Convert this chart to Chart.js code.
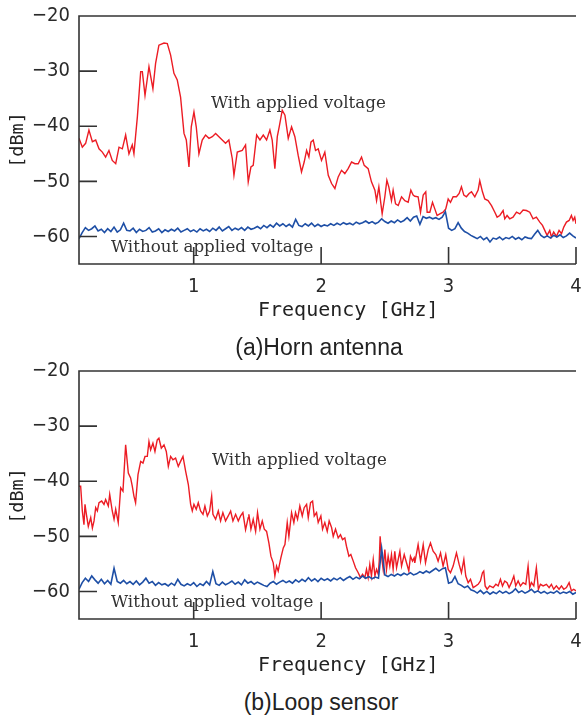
<!DOCTYPE html>
<html><head><meta charset="utf-8">
<script src="https://cdn.jsdelivr.net/npm/chart.js@4.4.1/dist/chart.umd.min.js"></script>
<style>
html,body{margin:0;padding:0;background:#fff;}
#wrap{position:relative;width:581px;height:720px;overflow:hidden;background:#fff;}
canvas{position:absolute;left:0;}
.ann{position:absolute;font-family:'DejaVu Serif',serif;font-size:16.7px;line-height:17px;color:#333;white-space:nowrap;}
.cap{position:absolute;font-family:'Liberation Sans',Arial,sans-serif;font-size:23px;line-height:23px;color:#222;text-align:center;width:400px;white-space:nowrap;}
.xt{position:absolute;font-family:'DejaVu Sans Mono',monospace;font-size:20px;line-height:20px;color:#222;white-space:nowrap;}
.yt{position:absolute;font-family:'DejaVu Sans Mono',monospace;font-size:18.5px;line-height:22px;color:#222;white-space:nowrap;transform:translate(-50%,-50%) rotate(-90deg);}
</style></head><body>
<div id="wrap">
<canvas id="c1" width="581" height="330" style="top:0px"></canvas>
<canvas id="c2" width="581" height="330" style="top:355px"></canvas>
<div class="ann" style="left:211px;top:94px">With applied voltage</div>
<div class="ann" style="left:111px;top:238px">Without applied voltage</div>
<div class="ann" style="left:212px;top:451px">With applied voltage</div>
<div class="ann" style="left:111px;top:593px">Without applied voltage</div>
<div class="xt" style="left:258px;top:299px">Frequency [GHz]</div>
<div class="xt" style="left:258px;top:654px">Frequency [GHz]</div>
<div class="yt" style="left:17px;top:140px">[dBm]</div>
<div class="yt" style="left:17px;top:496px">[dBm]</div>
<div class="cap" style="left:119px;top:336px">(a)Horn antenna</div>
<div class="cap" style="left:121px;top:691px">(b)Loop sensor</div>
</div>
<script>
// ---------- DATA ----------
const xTickValues = [1, 2, 3, 4];
const yTickValues = [-60, -50, -40, -30, -20];

// Horn antenna, with applied voltage (GHz / dBm)
const hornWithFreq = [
0.100,0.126,0.152,0.178,0.205,0.231,0.257,0.283,0.309,0.335,0.361,0.388,0.414,0.440,0.466,0.492,0.518,0.531,0.558,0.584,0.597,0.618,0.649,0.680,0.701,0.727,0.767,0.793,0.819,0.845,0.871,0.897,0.924,0.942,0.963,0.981,1.002,1.020,1.041,1.067,1.093,1.120,1.146,1.172,1.198,1.224,1.250,1.276,1.303,1.316,1.342,1.381,1.407,1.428,
1.449,1.467,1.494,1.520,1.546,1.572,1.598,1.616,1.637,1.656,1.671,1.695,1.716,1.742,1.768,1.794,1.820,1.846,1.867,1.886,1.904,1.920,1.938,1.956,1.977,2.003,2.029,2.056,2.082,2.108,2.134,2.160,2.186,2.212,2.239,2.265,2.291,2.317,2.338,2.369,2.395,2.422,2.435,2.453,2.469,2.479,2.500,2.516,2.531,2.552,2.565,2.584,2.605,2.631,2.657,2.683,2.704,2.722,
2.735,2.761,2.780,2.801,2.821,2.832,2.853,2.874,2.892,2.910,2.931,2.957,2.978,2.997,3.015,3.036,3.062,3.083,3.101,3.120,3.140,3.161,3.180,3.206,3.232,3.245,3.266,3.284,3.310,3.337,3.363,3.381,3.402,3.428,3.441,3.459,3.480,3.506,3.533,3.559,3.585,3.611,3.637,3.663,3.689,3.716,3.737,3.755,3.773,3.794,3.807,3.825,3.846,3.867,3.886,3.904,3.925,3.946,3.964,3.977,3.990,4.0];
const hornWithVal = [
-42.2,-43.8,-43.1,-40.7,-42.8,-42.5,-44.1,-44.7,-45.6,-44.4,-46.2,-46.8,-43.8,-44.1,-41.6,-45.0,-43.4,-45.0,-38.3,-30.1,-30.1,-34.4,-29.2,-33.2,-28.6,-25.3,-24.9,-25.0,-27.1,-30.4,-31.6,-34.7,-41.3,-42.5,-47.4,-40.1,-37.4,-40.1,-45.0,-42.5,-41.6,-42.2,-41.9,-41.3,-41.9,-42.5,-43.1,-42.5,-45.9,-48.9,-44.7,-44.4,-43.4,-50.1,
-47.4,-47.1,-41.6,-42.5,-41.6,-42.5,-40.7,-42.5,-47.7,-41.9,-40.1,-37.1,-38.0,-42.2,-40.1,-41.9,-45.3,-48.3,-46.5,-44.4,-45.6,-42.9,-42.5,-44.4,-44.1,-46.2,-44.7,-48.9,-50.4,-51.3,-49.2,-48.0,-48.6,-47.7,-46.5,-46.8,-46.8,-45.6,-47.1,-47.7,-50.1,-51.6,-53.5,-51.0,-54.1,-55.9,-52.8,-49.8,-51.0,-53.5,-51.6,-54.1,-54.4,-52.8,-53.5,-53.8,-51.6,-52.5,
-52.7,-52.8,-55.6,-52.5,-51.9,-55.6,-55.6,-53.8,-55.0,-56.2,-55.9,-55.6,-55.0,-53.2,-53.8,-52.8,-52.8,-52.2,-51.0,-52.5,-52.8,-52.2,-51.9,-52.8,-51.6,-49.9,-51.9,-53.2,-53.5,-54.4,-55.6,-56.5,-56.2,-55.3,-56.8,-56.2,-56.8,-56.5,-55.6,-55.9,-55.2,-55.3,-55.6,-56.8,-56.5,-57.4,-58.0,-58.9,-59.8,-58.9,-60.1,-59.2,-60.0,-58.9,-59.5,-58.3,-57.4,-57.1,-56.2,-57.1,-56.5,-57.7];

// Common frequency grid of the "without applied voltage" traces (GHz)
const noVoltFreq = [
0.1,0.125,0.15,0.175,0.2,0.225,0.25,0.275,0.3,0.325,0.35,0.375,0.4,0.425,0.45,0.475,
0.5,0.525,0.55,0.575,0.6,0.625,0.65,0.675,0.7,0.725,0.75,0.775,0.8,0.825,0.85,0.875,0.9,0.925,0.95,0.975,
1.0,1.025,1.05,1.075,1.1,1.125,1.15,1.175,1.2,1.225,1.25,1.275,1.3,1.325,1.35,1.375,1.4,1.425,1.45,1.475,
1.5,1.525,1.55,1.575,1.6,1.625,1.65,1.675,1.7,1.725,1.75,1.775,1.8,1.825,1.85,1.875,1.9,1.925,1.95,1.975,
2.0,2.025,2.05,2.075,2.1,2.125,2.15,2.175,2.2,2.225,2.25,2.275,2.3,2.325,2.35,2.375,2.4,2.425,2.45,2.475,
2.5,2.525,2.55,2.575,2.6,2.625,2.65,2.675,2.7,2.725,2.75,2.775,2.8,2.825,2.85,2.875,2.9,2.925,2.95,2.975,
3.0,3.025,3.05,3.075,3.1,3.125,3.15,3.175,3.2,3.225,3.25,3.275,3.3,3.325,3.35,3.375,3.4,3.425,3.45,3.475,
3.5,3.525,3.55,3.575,3.6,3.625,3.65,3.675,3.7,3.725,3.75,3.775,3.8,3.825,3.85,3.875,3.9,3.925,3.95,3.975,
4.0];

// Horn antenna, without applied voltage (dBm)
const hornWithoutVal = [
-60.4,-59.3,-58.4,-58.9,-58.6,-58.1,-59.0,-58.7,-59.3,-58.6,-59.1,-58.3,-59.2,-58.8,-57.6,-58.9,
-59.0,-58.5,-59.3,-58.7,-59.1,-58.9,-58.4,-59.2,-59.0,-58.6,-59.3,-58.8,-59.1,-58.7,-59.0,-58.5,-59.2,-58.9,-58.6,-59.1,
-58.8,-59.2,-58.6,-59.0,-58.7,-59.1,-58.5,-58.9,-58.3,-59.0,-58.6,-58.2,-58.9,-58.5,-58.8,-58.4,-58.9,-58.3,-58.7,-58.5,
-58.2,-58.6,-58.0,-58.4,-57.9,-58.3,-57.6,-58.1,-57.7,-58.2,-57.8,-58.3,-56.9,-58.0,-58.2,-57.7,-58.1,-57.6,-58.2,-57.8,
-58.2,-57.9,-58.1,-57.7,-58.0,-57.6,-57.9,-57.5,-57.8,-57.6,-57.9,-57.4,-57.7,-57.5,-57.2,-57.6,-57.3,-57.7,-57.4,-56.8,
-57.3,-57.6,-57.2,-57.5,-57.0,-57.4,-57.1,-56.6,-57.2,-56.5,-56.3,-57.8,-56.4,-56.7,-56.5,-56.8,-56.6,-56.9,-56.5,-55.5,
-58.5,-58.9,-58.6,-57.5,-58.5,-59.1,-59.4,-59.8,-60.1,-60.4,-60.0,-60.6,-60.2,-61.0,-60.3,-60.5,-60.1,-60.6,-60.2,-60.4,
-60.0,-60.5,-60.2,-60.6,-60.1,-60.3,-60.4,-59.6,-58.9,-59.8,-60.2,-59.9,-60.3,-59.8,-60.1,-59.7,-60.2,-59.9,-59.4,-59.9,
-60.3];

// Loop sensor, with applied voltage (GHz / dBm)
const loopWithFreq = [
0.100,0.113,0.126,0.139,0.147,0.158,0.173,0.192,0.205,0.218,0.231,0.244,0.257,0.278,0.296,0.309,0.330,0.341,0.361,0.375,0.388,0.408,0.427,0.445,0.466,0.487,0.505,0.518,0.531,0.544,0.563,0.584,0.602,0.618,0.636,0.649,0.662,0.680,0.696,0.714,0.727,0.746,0.767,0.785,0.801,0.819,0.837,0.858,0.879,0.897,0.916,0.937,0.958,0.976,0.989,1.002,1.020,1.036,1.054,1.073,1.088,1.107,1.125,1.141,1.151,1.172,1.193,1.211,1.229,1.250,1.271,1.290,1.308,1.329,1.350,1.368,1.386,1.407,1.428,
1.433,1.449,1.467,1.486,1.501,1.520,1.538,1.554,1.572,1.590,1.606,1.624,1.637,1.650,1.663,1.684,1.703,1.716,1.734,1.747,1.768,1.786,1.799,1.815,1.833,1.852,1.867,1.886,1.899,1.917,1.933,1.946,1.964,1.977,1.998,2.011,2.029,2.048,2.063,2.082,2.095,2.113,2.134,2.152,2.168,2.186,2.199,2.218,2.233,2.252,2.270,2.291,2.309,2.325,2.343,2.356,2.369,2.382,2.395,2.409,2.422,2.435,2.448,2.456,2.463,2.474,2.487,2.500,2.513,2.526,2.539,2.552,2.565,2.578,2.592,2.605,2.618,2.631,2.652,2.670,2.688,2.701,2.717,2.730,
2.735,2.761,2.780,2.801,2.819,2.840,2.858,2.879,2.900,2.918,2.937,2.957,2.978,2.997,3.015,3.036,3.062,3.083,3.101,3.120,3.135,3.154,3.172,3.193,3.214,3.232,3.250,3.266,3.276,3.287,3.303,3.323,3.350,3.371,3.389,3.407,3.423,3.441,3.459,3.475,3.493,3.512,3.527,3.546,3.564,3.585,3.606,3.624,3.637,3.650,3.669,3.689,3.705,3.721,3.742,3.768,3.789,3.807,3.825,3.846,3.867,3.886,3.904,3.925,3.946,3.964,3.982,4.0];
const loopWithVal = [
-40.9,-40.9,-45.4,-47.9,-44.2,-46.0,-48.2,-46.6,-48.5,-47.2,-44.8,-45.4,-43.9,-43.6,-44.2,-43.3,-44.5,-42.4,-45.4,-46.9,-45.1,-47.5,-41.2,-41.8,-33.4,-38.5,-39.4,-40.9,-42.7,-43.9,-38.8,-36.4,-36.7,-35.5,-35.5,-32.8,-34.3,-33.1,-34.6,-32.5,-32.2,-34.0,-33.4,-34.6,-37.3,-35.5,-36.1,-35.8,-37.3,-36.4,-35.5,-38.2,-40.6,-44.2,-45.4,-44.2,-45.1,-43.9,-45.4,-46.0,-44.5,-46.3,-45.4,-42.7,-46.0,-46.9,-45.4,-47.2,-45.7,-47.2,-46.3,-45.4,-47.2,-46.0,-47.2,-46.3,-45.7,-48.8,-46.6,
-46.0,-48.7,-46.9,-49.1,-45.7,-48.7,-47.2,-48.7,-49.1,-51.2,-53.6,-54.8,-57.2,-55.4,-56.3,-53.9,-52.1,-51.5,-47.5,-50.0,-45.7,-47.5,-45.7,-46.9,-44.5,-46.3,-44.8,-44.2,-46.6,-43.9,-43.6,-46.3,-45.7,-47.5,-46.3,-48.7,-47.5,-49.1,-47.2,-48.4,-50.0,-48.7,-50.3,-49.7,-50.6,-50.3,-51.8,-53.6,-53.3,-54.5,-55.7,-56.6,-57.5,-56.9,-57.5,-56.0,-57.5,-55.1,-57.2,-54.2,-57.2,-56.0,-56.9,-54.5,-50.0,-53.6,-56.0,-52.4,-56.0,-53.6,-55.4,-53.3,-56.0,-52.7,-55.7,-54.2,-52.7,-55.4,-53.3,-54.8,-56.3,-53.6,-54.5,-53.9,
-54.8,-51.5,-54.5,-51.5,-54.8,-52.4,-51.2,-52.7,-53.3,-54.5,-53.0,-55.4,-53.3,-56.0,-56.6,-55.4,-53.0,-55.1,-56.6,-54.2,-57.2,-58.4,-57.8,-59.3,-59.0,-58.7,-58.1,-56.6,-56.3,-59.0,-59.6,-59.0,-59.3,-58.7,-59.0,-57.8,-59.0,-58.1,-58.4,-59.3,-58.4,-57.2,-59.0,-58.1,-59.0,-58.4,-58.7,-55.4,-59.3,-58.4,-59.0,-55.7,-59.6,-58.7,-59.0,-58.7,-59.3,-58.7,-59.6,-59.0,-59.6,-59.0,-59.6,-59.3,-58.4,-59.9,-59.6,-59.9];

// Loop sensor, without applied voltage (dBm), on noVoltFreq
const loopWithoutVal = [
-59.6,-58.4,-57.6,-58.2,-57.2,-57.9,-58.5,-57.8,-58.6,-58.0,-58.7,-55.8,-58.2,-58.5,-58.0,-58.6,
-58.2,-58.7,-58.1,-58.8,-58.3,-57.6,-58.5,-58.2,-58.9,-58.4,-58.8,-58.6,-59.0,-58.5,-58.9,-57.8,-58.7,-59.0,-58.6,-58.9,
-58.4,-59.1,-58.6,-58.9,-58.2,-58.8,-56.4,-58.6,-58.9,-58.3,-58.8,-58.5,-58.1,-58.7,-58.3,-58.8,-57.9,-58.5,-58.2,-58.7,
-58.3,-58.6,-58.9,-59.1,-58.5,-58.2,-58.7,-58.3,-58.0,-58.4,-58.1,-58.5,-57.9,-58.3,-57.8,-58.2,-57.5,-58.1,-57.7,-58.2,
-57.6,-58.0,-57.7,-58.1,-57.6,-57.9,-57.5,-58.0,-57.6,-57.3,-57.8,-57.4,-57.7,-57.2,-57.6,-57.3,-57.7,-57.4,-57.6,-52.2,
-57.0,-57.3,-56.9,-57.2,-56.8,-57.1,-56.7,-57.0,-56.6,-57.0,-56.8,-56.4,-56.7,-56.3,-56.6,-56.2,-55.8,-56.3,-55.9,-55.7,
-58.5,-58.3,-57.3,-58.6,-58.9,-59.3,-59.0,-59.7,-59.9,-60.3,-59.8,-60.4,-60.0,-60.5,-60.1,-60.4,-59.9,-60.3,-60.0,-60.4,
-60.1,-59.5,-60.2,-59.9,-60.3,-60.0,-59.6,-60.2,-59.9,-60.3,-60.0,-60.4,-60.1,-60.3,-59.9,-60.4,-60.1,-60.3,-60.0,-60.5,
-60.2];

// ---------- CHART ----------
const RED = '#ec1c24', BLUE = '#1e4fa6', INK = '#2a2a2a';
const tickFont = {family: "'DejaVu Sans Condensed','Liberation Sans Narrow','DejaVu Sans',sans-serif", size: 20};

const framePlugin = {
  id: 'frame',
  afterDatasetsDraw(chart) {
    const {ctx, chartArea: {left, right, top, bottom}, scales: {x, y}} = chart;
    ctx.save();
    ctx.strokeStyle = '#333';
    ctx.lineWidth = 1.6;
    ctx.beginPath();
    ctx.moveTo(right, top); ctx.lineTo(left, top);
    ctx.lineTo(left, bottom); ctx.lineTo(right, bottom);
    y.ticks.forEach(t => { const p = y.getPixelForValue(t.value); ctx.moveTo(left, p); ctx.lineTo(left + 18, p); });
    x.ticks.forEach(t => { const p = x.getPixelForValue(t.value); ctx.moveTo(p, bottom); ctx.lineTo(p, bottom - 17); });
    ctx.stroke();
    ctx.restore();
  }
};

function pts(f, v) { return f.map((xv, i) => ({x: xv, y: v[i]})); }
function noPad(s) { s.paddingLeft = 0; s.paddingRight = 0; s.paddingTop = 0; s.paddingBottom = 0; }

function makeChart(id, wf, wv, nf, nv) {
  return new Chart(document.getElementById(id), {
    type: 'line',
    data: {
      datasets: [
        {data: pts(nf, nv), borderColor: BLUE, borderWidth: 1.6},
        {data: pts(wf, wv), borderColor: RED, borderWidth: 1.4}
      ]
    },
    options: {
      responsive: false, animation: false,
      elements: {point: {radius: 0}, line: {tension: 0}},
      layout: {padding: {left: 0, top: 16, right: 5, bottom: 0}},
      plugins: {legend: {display: false}, tooltip: {enabled: false}},
      scales: {
        x: {
          type: 'linear', min: 0.1, max: 4,
          grid: {display: false, drawTicks: false}, border: {display: false},
          afterBuildTicks: s => { s.ticks = xTickValues.map(v => ({value: v})); },
          afterFit: s => { s.height = 66; noPad(s); },
          ticks: {font: tickFont, color: INK, padding: 11, autoSkip: false, maxRotation: 0, minRotation: 0,
                  callback: v => String(v)}
        },
        y: {
          type: 'linear', min: -65, max: -20,
          grid: {display: false, drawTicks: false}, border: {display: false},
          afterBuildTicks: s => { s.ticks = yTickValues.map(v => ({value: v})); },
          afterFit: s => { s.width = 79; noPad(s); },
          ticks: {font: tickFont, color: INK, padding: 9,
                  callback: v => String(v).replace('-', '\u2212')}
        }
      }
    },
    plugins: [framePlugin]
  });
}

makeChart('c1', hornWithFreq, hornWithVal, noVoltFreq, hornWithoutVal);
makeChart('c2', loopWithFreq, loopWithVal, noVoltFreq, loopWithoutVal);
</script>
</body></html>
